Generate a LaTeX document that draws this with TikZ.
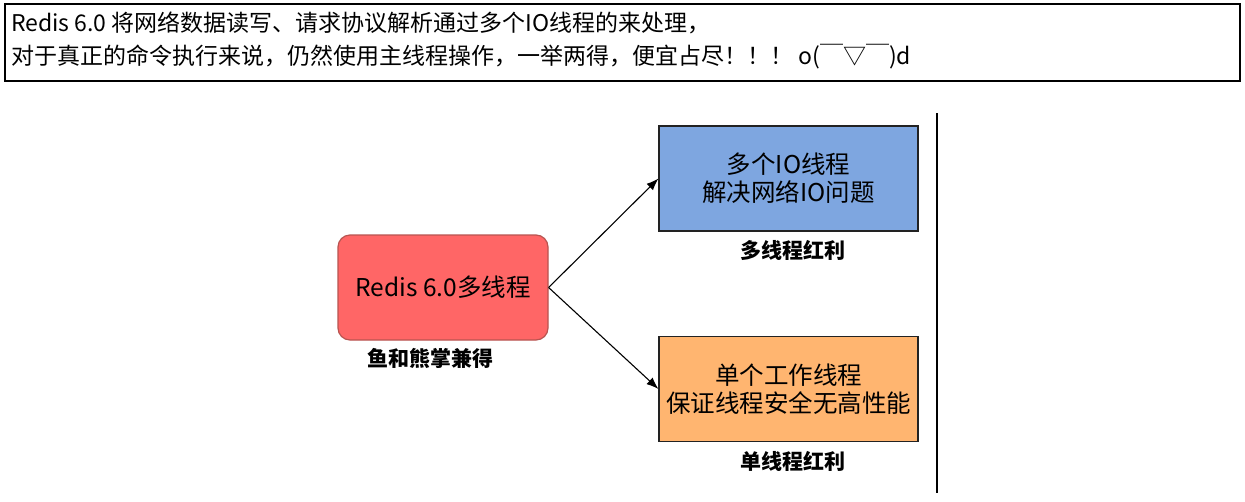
\documentclass[tikz,border=0pt]{standalone}
\usepackage{fontspec}
\setmainfont{Noto Sans CJK SC}
\usetikzlibrary{arrows.meta,positioning}
\definecolor{rdfill}{HTML}{FF6666}
\definecolor{rdline}{HTML}{B85450}
\definecolor{iofill}{HTML}{7EA6E0}
\definecolor{wkfill}{HTML}{FFB570}
\definecolor{bxline}{HTML}{222222}
\tikzset{
rdnote/.style={rectangle,draw,line width=1.1pt,minimum width=1235pt,minimum height=77pt,inner sep=0pt},
rdline/.style={anchor=base west,inner sep=0pt,font=\fontsize{23}{27}\selectfont},
rdmain/.style={rectangle,rounded corners=12pt,draw=rdline,fill=rdfill,line width=1.2pt,align=center,minimum width=210pt,minimum height=105pt,font=\fontsize{24.5}{28}\selectfont},
rdgain/.style={rectangle,draw=bxline,line width=1.2pt,align=center,minimum width=259pt,minimum height=105pt,font=\fontsize{24.5}{28}\selectfont},
rdcaption/.style={inner sep=1pt,font=\fontsize{21}{25}\selectfont\bfseries},
rdarr/.style={-{Latex[length=12pt,width=9pt]},line width=1.1pt}
}
\begin{document}
\begin{tikzpicture}[x=1pt,y=-1pt]
\useasboundingbox[fill=white] (0,0) rectangle (1245,501);
% note box
\node[rdnote] (note) at (622.5,42.5) {};
\node[rdline] (noteone) at (11,31) {Redis 6.0 将网络数据读写、请求协议解析通过多个IO线程的来处理，};
\node[rdline] (notetwo) at (11,64) {对于真正的命令执行来说，仍然使用主线程操作，一举两得，便宜占尽！！！ o(￣▽￣)d};
% diagram
\node[rdmain] (redis) at (443,287.5) {Redis 6.0多线程};
\node[rdcaption] (both) at (430,358) {鱼和熊掌兼得};
\node[rdgain,fill=iofill] (multi) at (788.5,178.5) {多个IO线程\\解决网络IO问题};
\node[rdcaption] (multigain) at (793,250) {多线程红利};
\node[rdgain,fill=wkfill] (single) at (788.5,389) {单个工作线程\\保证线程安全无高性能};
\node[rdcaption] (singlegain) at (793,461) {单线程红利};
\coordinate (cuttop) at (937,113);
\coordinate (cutbot) at (937,493);
\draw[rdarr] (redis.east)--(multi.west);
\draw[rdarr] (redis.east)--(single.west);
\draw[line width=1.6pt] (cuttop)--(cutbot);
\end{tikzpicture}
\end{document}
